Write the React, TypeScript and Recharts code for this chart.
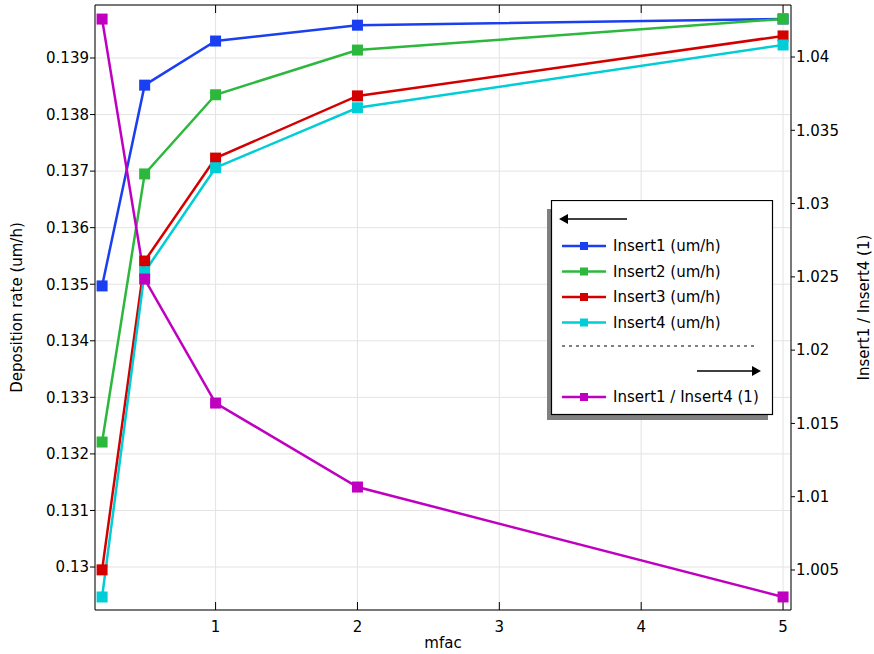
import React from 'react';
import {
  ComposedChart,
  Line,
  XAxis,
  YAxis,
  CartesianGrid,
} from 'recharts';

// mfac sweep values
const mfac = [0.2, 0.5, 1, 2, 5];

// deposition rates (um/h), left axis
const insert1 = [0.13497, 0.13852, 0.1393, 0.13958, 0.13969];
const insert2 = [0.13221, 0.13695, 0.13835, 0.13914, 0.13969];
const insert3 = [0.12995, 0.13541, 0.13723, 0.13833, 0.13939];
const insert4 = [0.12947, 0.13522, 0.13706, 0.13812, 0.13923];

// ratio Insert1 / Insert4, right axis
const ratio = [1.04259, 1.02485, 1.01639, 1.01066, 1.00316];

const xTicks = [1, 2, 3, 4, 5];
const leftTicks = [0.13, 0.131, 0.132, 0.133, 0.134, 0.135, 0.136, 0.137, 0.138, 0.139];
const rightTicks = [1.005, 1.01, 1.015, 1.02, 1.025, 1.03, 1.035, 1.04];

const leftSeries = [
  { key: 'insert1', name: 'Insert1 (um/h)', color: '#1a3ff0', values: insert1 },
  { key: 'insert2', name: 'Insert2 (um/h)', color: '#2cb83c', values: insert2 },
  { key: 'insert3', name: 'Insert3 (um/h)', color: '#d40000', values: insert3 },
  { key: 'insert4', name: 'Insert4 (um/h)', color: '#00cdd6', values: insert4 },
];
const ratioSeries = { key: 'ratio', name: 'Insert1 / Insert4 (1)', color: '#c000c0' };

const data = mfac.map((m, i) => {
  const row: Record<string, number> = { mfac: m, ratio: ratio[i] };
  leftSeries.forEach(s => {
    row[s.key] = s.values[i];
  });
  return row;
});

const FONT = '"DejaVu Sans", sans-serif';
const FS = 15;
const fmt = (v: number) => String(Number(v.toFixed(3)));

const squareDot = (color: string) => (props: any) => {
  const { cx, cy, index } = props;
  if (cx == null || cy == null) return <g key={index} />;
  return <rect key={index} x={cx - 5.5} y={cy - 5.5} width={11} height={11} fill={color} />;
};

const BottomTick = (props: any) => {
  const { x, payload } = props;
  return (
    <text x={x} y={632} textAnchor="middle" fontSize={FS} fontFamily={FONT} fill="#000">
      {payload.value}
    </text>
  );
};

const LegendRow = ({ y, color, label }: { y: number; color: string; label: string }) => (
  <g>
    <line x1={11} x2={55} y1={y} y2={y} stroke={color} strokeWidth={2.5} />
    <rect x={29} y={y - 4} width={8} height={8} fill={color} />
    <text x={62} y={y + 5} fontSize={FS} fontFamily={FONT} fill="#000">
      {label}
    </text>
  </g>
);

// legend box drawn like the original: left-pointing arrow for the left axis, right-pointing for the right
const LegendBox = () => (
  <svg width={230} height={225} style={{ display: 'block' }}>
    <rect x={0} y={9} width={221} height={211} fill="#808080" />
    <rect x={4.5} y={0.5} width={221} height={214} fill="#fff" stroke="#000" strokeWidth={1.2} />
    <g transform="translate(4,0)">
      <line x1={16} x2={76} y1={19} y2={19} stroke="#000" strokeWidth={1.5} />
      <polygon points="8,19 17,14 17,24" fill="#000" />
      {leftSeries.map((s, i) => (
        <LegendRow key={s.key} y={46 + i * 25.5} color={s.color} label={s.name} />
      ))}
      <line x1={11} x2={207} y1={146} y2={146} stroke="#000" strokeWidth={1} strokeDasharray="3 4" />
      <line x1={146} x2={203} y1={171} y2={171} stroke="#000" strokeWidth={1.5} />
      <polygon points="210,171 201,166 201,176" fill="#000" />
      <LegendRow y={197} color={ratioSeries.color} label={ratioSeries.name} />
    </g>
  </svg>
);

export default function App() {
  return (
    <div style={{ position: 'absolute', left: 0, top: 0, width: 874, height: 654, background: '#fff' }}>
      <ComposedChart
        width={874}
        height={654}
        data={data}
        margin={{ top: 5, right: 0, bottom: 44, left: 0 }}
      >
        <CartesianGrid yAxisId="left" stroke="#e3e3e3" strokeWidth={1} />
        <XAxis
          dataKey="mfac"
          type="number"
          domain={[0.15, 5.056]}
          ticks={xTicks}
          allowDataOverflow
          stroke="#000"
          mirror
          tickSize={8}
          tick={<BottomTick />}
          label={{
            content: () => (
              <text x={443} y={648} textAnchor="middle" fontSize={FS} fontFamily={FONT} fill="#000">
                mfac
              </text>
            ),
          }}
        />
        <XAxis
          xAxisId="top"
          dataKey="mfac"
          type="number"
          orientation="top"
          domain={[0.15, 5.056]}
          ticks={xTicks}
          allowDataOverflow
          stroke="#000"
          mirror
          tickSize={8}
          tick={<g />}
        />
        <YAxis
          yAxisId="left"
          type="number"
          domain={[0.12924, 0.139937]}
          ticks={leftTicks}
          allowDataOverflow
          width={95}
          stroke="#000"
          tickSize={5}
          tickMargin={1}
          tickFormatter={fmt}
          tick={{ fontSize: FS, fontFamily: FONT, fill: '#000' }}
          label={{
            value: 'Deposition rate (um/h)',
            angle: -90,
            position: 'insideLeft',
            offset: 17,
            style: { textAnchor: 'middle', fontSize: FS, fontFamily: FONT, fill: '#000' },
          }}
        />
        <YAxis
          yAxisId="right"
          orientation="right"
          type="number"
          domain={[1.00227, 1.04355]}
          ticks={rightTicks}
          allowDataOverflow
          width={83}
          stroke="#000"
          tickSize={4}
          tickMargin={1}
          tickFormatter={fmt}
          tick={{ fontSize: FS, fontFamily: FONT, fill: '#000' }}
          label={{
            value: 'Insert1 / Insert4 (1)',
            angle: -90,
            position: 'insideRight',
            offset: 10,
            style: { textAnchor: 'middle', fontSize: FS, fontFamily: FONT, fill: '#000' },
          }}
        />
        {leftSeries.map(s => (
          <Line
            key={s.key}
            yAxisId="left"
            type="linear"
            dataKey={s.key}
            name={s.name}
            stroke={s.color}
            strokeWidth={2.5}
            dot={squareDot(s.color)}
            activeDot={false}
            isAnimationActive={false}
          />
        ))}
        <Line
          yAxisId="right"
          type="linear"
          dataKey={ratioSeries.key}
          name={ratioSeries.name}
          stroke={ratioSeries.color}
          strokeWidth={2.5}
          dot={squareDot(ratioSeries.color)}
          activeDot={false}
          isAnimationActive={false}
        />
      </ComposedChart>
      <div style={{ position: 'absolute', left: 547, top: 200 }}>
        <LegendBox />
      </div>
    </div>
  );
}
